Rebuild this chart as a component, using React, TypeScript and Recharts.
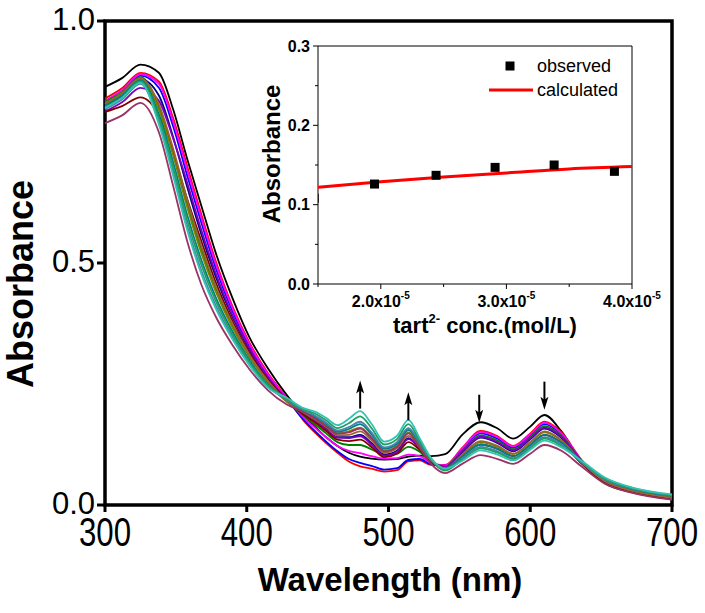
import { LineChart, Line, XAxis, YAxis, ReferenceArea, ReferenceDot, ComposedChart, Scatter } from 'recharts';

const FONT = '"Liberation Sans", Arial, sans-serif';

// wavelength grid (nm) of the titration spectra
const wavelengths = [300, 312, 325, 338, 348, 358, 368, 378, 390, 402, 415, 428, 440, 448, 456, 464, 472, 480, 488, 497, 506, 514, 522, 530, 540, 552, 565, 577, 588, 600, 610, 622, 636, 652, 672, 700];

// absorbance of each spectrum
const black = [0.864, 0.882, 0.910, 0.893, 0.818, 0.715, 0.618, 0.522, 0.427, 0.346, 0.282, 0.228, 0.185, 0.162, 0.140, 0.122, 0.108, 0.100, 0.096, 0.094, 0.095, 0.100, 0.102, 0.101, 0.105, 0.145, 0.171, 0.158, 0.137, 0.162, 0.186, 0.152, 0.090, 0.046, 0.026, 0.014];
const red = [0.840, 0.861, 0.893, 0.875, 0.800, 0.700, 0.600, 0.505, 0.410, 0.335, 0.272, 0.222, 0.175, 0.150, 0.128, 0.108, 0.090, 0.080, 0.075, 0.069, 0.072, 0.090, 0.092, 0.083, 0.083, 0.118, 0.153, 0.142, 0.122, 0.148, 0.172, 0.150, 0.094, 0.050, 0.027, 0.012];
const blue = [0.826, 0.850, 0.887, 0.862, 0.783, 0.681, 0.583, 0.491, 0.400, 0.328, 0.268, 0.220, 0.177, 0.153, 0.131, 0.111, 0.095, 0.087, 0.081, 0.073, 0.076, 0.093, 0.095, 0.084, 0.081, 0.115, 0.148, 0.137, 0.118, 0.144, 0.167, 0.146, 0.092, 0.050, 0.027, 0.013];
const magenta = [0.835, 0.857, 0.890, 0.870, 0.793, 0.692, 0.593, 0.499, 0.406, 0.332, 0.270, 0.221, 0.181, 0.160, 0.140, 0.122, 0.112, 0.107, 0.101, 0.096, 0.097, 0.104, 0.101, 0.087, 0.082, 0.117, 0.151, 0.140, 0.121, 0.146, 0.170, 0.148, 0.093, 0.050, 0.028, 0.013];
const green = [0.833, 0.853, 0.884, 0.823, 0.730, 0.623, 0.528, 0.448, 0.370, 0.308, 0.255, 0.215, 0.185, 0.167, 0.148, 0.130, 0.124, 0.124, 0.115, 0.104, 0.106, 0.120, 0.110, 0.088, 0.080, 0.112, 0.144, 0.133, 0.115, 0.140, 0.163, 0.143, 0.092, 0.051, 0.029, 0.014];
const navy = [0.823, 0.845, 0.880, 0.846, 0.761, 0.657, 0.559, 0.473, 0.388, 0.320, 0.262, 0.218, 0.189, 0.175, 0.158, 0.140, 0.140, 0.145, 0.128, 0.104, 0.112, 0.138, 0.118, 0.091, 0.078, 0.108, 0.139, 0.128, 0.111, 0.136, 0.158, 0.139, 0.090, 0.050, 0.028, 0.014];
const purple = [0.813, 0.832, 0.862, 0.835, 0.758, 0.666, 0.568, 0.480, 0.392, 0.323, 0.264, 0.219, 0.189, 0.173, 0.156, 0.139, 0.138, 0.142, 0.125, 0.102, 0.110, 0.136, 0.117, 0.091, 0.079, 0.110, 0.141, 0.130, 0.113, 0.138, 0.160, 0.141, 0.091, 0.050, 0.028, 0.014];
const wine = [0.812, 0.824, 0.842, 0.805, 0.730, 0.632, 0.545, 0.461, 0.380, 0.314, 0.259, 0.217, 0.187, 0.171, 0.153, 0.135, 0.132, 0.135, 0.120, 0.099, 0.106, 0.130, 0.114, 0.090, 0.073, 0.100, 0.125, 0.116, 0.101, 0.124, 0.145, 0.129, 0.086, 0.048, 0.027, 0.013];
const olive = [0.828, 0.849, 0.880, 0.817, 0.723, 0.615, 0.520, 0.442, 0.366, 0.305, 0.253, 0.214, 0.193, 0.180, 0.164, 0.148, 0.152, 0.160, 0.140, 0.112, 0.122, 0.150, 0.124, 0.093, 0.075, 0.103, 0.130, 0.120, 0.105, 0.129, 0.150, 0.133, 0.089, 0.051, 0.030, 0.016];
const brown = [0.830, 0.851, 0.882, 0.828, 0.737, 0.630, 0.535, 0.453, 0.374, 0.310, 0.256, 0.216, 0.191, 0.177, 0.161, 0.144, 0.145, 0.152, 0.134, 0.108, 0.117, 0.143, 0.121, 0.092, 0.076, 0.104, 0.132, 0.122, 0.106, 0.130, 0.152, 0.134, 0.089, 0.050, 0.029, 0.015];
const teal = [0.825, 0.846, 0.878, 0.807, 0.709, 0.599, 0.506, 0.430, 0.358, 0.299, 0.249, 0.218, 0.194, 0.183, 0.168, 0.151, 0.157, 0.167, 0.146, 0.116, 0.126, 0.155, 0.127, 0.094, 0.076, 0.100, 0.125, 0.116, 0.101, 0.124, 0.145, 0.129, 0.090, 0.054, 0.033, 0.019];
const steel = [0.818, 0.838, 0.870, 0.791, 0.688, 0.576, 0.484, 0.413, 0.346, 0.291, 0.244, 0.218, 0.195, 0.185, 0.170, 0.154, 0.161, 0.172, 0.150, 0.119, 0.130, 0.159, 0.129, 0.094, 0.072, 0.096, 0.120, 0.111, 0.097, 0.120, 0.140, 0.125, 0.088, 0.054, 0.034, 0.020];
const maroon = [0.789, 0.805, 0.831, 0.770, 0.660, 0.545, 0.455, 0.390, 0.330, 0.280, 0.237, 0.208, 0.192, 0.179, 0.163, 0.147, 0.150, 0.158, 0.138, 0.111, 0.120, 0.148, 0.118, 0.085, 0.066, 0.085, 0.103, 0.095, 0.085, 0.106, 0.124, 0.112, 0.080, 0.045, 0.025, 0.011];
const greenTeal = [0.822, 0.842, 0.875, 0.799, 0.699, 0.588, 0.496, 0.422, 0.352, 0.295, 0.247, 0.220, 0.198, 0.189, 0.175, 0.159, 0.169, 0.183, 0.159, 0.125, 0.136, 0.167, 0.133, 0.096, 0.071, 0.094, 0.117, 0.108, 0.095, 0.117, 0.137, 0.122, 0.090, 0.056, 0.035, 0.021];
const turquoise = [0.820, 0.841, 0.872, 0.786, 0.681, 0.568, 0.477, 0.407, 0.342, 0.288, 0.242, 0.222, 0.200, 0.193, 0.180, 0.165, 0.178, 0.194, 0.168, 0.131, 0.143, 0.176, 0.138, 0.097, 0.075, 0.091, 0.113, 0.104, 0.092, 0.114, 0.133, 0.119, 0.092, 0.058, 0.036, 0.022];

const series = [
  { key: 'black', color: '#000000', values: black },
  { key: 'red', color: '#ff0000', values: red },
  { key: 'blue', color: '#0000ff', values: blue },
  { key: 'magenta', color: '#ff00ff', values: magenta },
  { key: 'green', color: '#008000', values: green },
  { key: 'navy', color: '#000080', values: navy },
  { key: 'purple', color: '#8000c0', values: purple },
  { key: 'wine', color: '#800000', values: wine },
  { key: 'olive', color: '#808000', values: olive },
  { key: 'brown', color: '#996633', values: brown },
  { key: 'teal', color: '#008080', values: teal },
  { key: 'steel', color: '#4682b4', values: steel },
  { key: 'maroon', color: '#993366', values: maroon },
  { key: 'greenTeal', color: '#20a060', values: greenTeal },
  { key: 'turquoise', color: '#35c3b3', values: turquoise },
];

const spectra = wavelengths.map((w, i) => {
  const row: Record<string, number> = { w };
  series.forEach(s => { row[s.key] = s.values[i]; });
  return row;
});

// arrows marking the direction of change (wavelength, absorbance at the tip)
const arrows = [
  { w: 480, tip: 0.257, dir: 'up' },
  { w: 514, tip: 0.233, dir: 'up' },
  { w: 564, tip: 0.170, dir: 'down' },
  { w: 610, tip: 0.197, dir: 'down' },
];

// inset: absorbance vs tartrate concentration
const concObserved = [1.47e-5, 1.95e-5, 2.44e-5, 2.91e-5, 3.38e-5, 3.86e-5];
const absObserved = [0.108, 0.126, 0.137, 0.147, 0.150, 0.142];
const concCalculated = [1.5e-5, 2.0e-5, 2.5e-5, 3.0e-5, 3.5e-5, 4.0e-5];
const absCalculated = [0.122, 0.129, 0.135, 0.140, 0.145, 0.148];

const observed = concObserved.map((x, i) => ({ x, y: absObserved[i] }));
const calculated = concCalculated.map((x, i) => ({ x, y: absCalculated[i] }));

const mainXTicks = [300, 400, 500, 600, 700];
const mainYTicks = [0, 0.5, 1.0];
const insetXTicks = [1.5e-5, 2.0e-5, 2.5e-5, 3.0e-5, 3.5e-5, 4.0e-5];
const insetYTicks = [0, 0.05, 0.1, 0.15, 0.2, 0.25, 0.3];

function MainXTick(props: any) {
  const { x, y, payload } = props;
  return (
    <g>
      <line x1={x} x2={x} y1={y} y2={y + 7} stroke="#000" strokeWidth={3} />
      <text transform={`translate(${x},${y + 41}) scale(0.78,1)`} textAnchor="middle" fontSize={40} fontFamily={FONT} fill="#000">
        {payload.value}
      </text>
    </g>
  );
}

function MainYTick(props: any) {
  const { x, y, payload } = props;
  return (
    <g>
      <line x1={x - 8} x2={x} y1={y} y2={y} stroke="#000" strokeWidth={3} />
      <text x={x - 10} y={y} dy="0.3em" textAnchor="end" fontSize={31} fontFamily={FONT} fill="#000">
        {Number(payload.value).toFixed(1)}
      </text>
    </g>
  );
}

function InsetXTick(props: any) {
  const { x, y, payload } = props;
  const v = payload.value * 1e5;
  const major = Math.abs(v - Math.round(v)) < 1e-6;
  return (
    <g>
      <line x1={x} x2={x} y1={y} y2={y + (major ? 5 : 3)} stroke="#000" strokeWidth={1} />
      {major && (
        <text x={x} y={y + 23} textAnchor="middle" fontSize={16} fontWeight="bold" fontFamily={FONT} fill="#000">
          {v.toFixed(1)}x10<tspan dy={-8} fontSize={10}>-5</tspan>
        </text>
      )}
    </g>
  );
}

function InsetYTick(props: any) {
  const { x, y, payload } = props;
  const v = payload.value * 10;
  const major = Math.abs(v - Math.round(v)) < 1e-6;
  return (
    <g>
      <line x1={x - (major ? 5 : 3)} x2={x} y1={y} y2={y} stroke="#000" strokeWidth={1} />
      {major && (
        <text x={x - 8} y={y} dy="0.36em" textAnchor="end" fontSize={16} fontWeight="bold" fontFamily={FONT} fill="#000">
          {Number(payload.value).toFixed(1)}
        </text>
      )}
    </g>
  );
}

function ArrowMark({ cx, cy, dir }: any) {
  const s = dir === 'up' ? 1 : -1;
  return (
    <g>
      <line x1={cx} x2={cx} y1={cy + s * 8} y2={cy + s * 28} stroke="#000" strokeWidth={2} />
      <path d={`M${cx},${cy} L${cx - 4},${cy + s * 13} L${cx},${cy + s * 10} L${cx + 4},${cy + s * 13} Z`} fill="#000" />
    </g>
  );
}

export default function App() {
  return (
    <div style={{ position: 'fixed', left: 0, top: 0, width: 705, height: 613, background: '#fff' }}>
      <LineChart width={705} height={613} data={spectra} margin={{ top: 21, right: 33, bottom: 0, left: 0 }}>
        <XAxis
          dataKey="w"
          type="number"
          domain={[300, 700]}
          ticks={mainXTicks}
          interval={0}
          height={108}
          axisLine={false}
          tickLine={false}
          tickSize={0}
          tickMargin={0}
          tick={<MainXTick />}
          label={{
            content: () => (
              <text x={390} y={591} textAnchor="middle" fontSize={33} fontWeight="bold" fontFamily={FONT} fill="#000">
                Wavelength (nm)
              </text>
            ),
          }}
        />
        <YAxis
          type="number"
          domain={[0, 1]}
          ticks={mainYTicks}
          interval={0}
          width={105}
          axisLine={false}
          tickLine={false}
          tickSize={0}
          tickMargin={0}
          tick={<MainYTick />}
          label={{
            content: () => (
              <text transform="translate(33,284) rotate(-90)" textAnchor="middle" fontSize={36} fontWeight="bold" fontFamily={FONT} fill="#000">
                Absorbance
              </text>
            ),
          }}
        />
        {series.map(s => (
          <Line
            key={s.key}
            type="monotone"
            dataKey={s.key}
            stroke={s.color}
            strokeWidth={1.8}
            dot={false}
            activeDot={false}
            isAnimationActive={false}
          />
        ))}
        <ReferenceArea x1={300} x2={700} y1={0} y2={1} fill="none" fillOpacity={0} stroke="#000" strokeWidth={3.5} />
        {arrows.map(a => (
          <ReferenceDot key={a.w} x={a.w} y={a.tip} r={1} shape={(p: any) => <ArrowMark cx={p.cx} cy={p.cy} dir={a.dir} />} />
        ))}
      </LineChart>

      <div style={{ position: 'absolute', left: 230, top: 30 }}>
        <ComposedChart width={470} height={320} margin={{ top: 16, right: 68, bottom: 0, left: 0 }}>
          <XAxis
            dataKey="x"
            type="number"
            domain={[1.5e-5, 4.0e-5]}
            allowDataOverflow
            ticks={insetXTicks}
            interval={0}
            height={66}
            axisLine={false}
            tickLine={false}
            tickSize={0}
            tickMargin={0}
            tick={<InsetXTick />}
            label={{
              content: () => (
                <text x={255} y={303} textAnchor="middle" fontSize={22} fontWeight="bold" fontFamily={FONT} fill="#000">
                  tart<tspan dy={-10} fontSize={13}>2-</tspan><tspan dy={10}> conc.(mol/L)</tspan>
                </text>
              ),
            }}
          />
          <YAxis
            type="number"
            domain={[0, 0.3]}
            ticks={insetYTicks}
            interval={0}
            width={88}
            axisLine={false}
            tickLine={false}
            tickSize={0}
            tickMargin={0}
            tick={<InsetYTick />}
            label={{
              content: () => (
                <text transform="translate(50,124) rotate(-90)" textAnchor="middle" fontSize={24} fontWeight="bold" fontFamily={FONT} fill="#000">
                  Absorbance
                </text>
              ),
            }}
          />
          <ReferenceArea x1={1.5e-5} x2={4.0e-5} y1={0} y2={0.3} fill="none" fillOpacity={0} stroke="#000" strokeWidth={1} />
          <Line data={calculated} dataKey="y" type="monotone" stroke="#ff0000" strokeWidth={3} dot={false} activeDot={false} isAnimationActive={false} />
          <Scatter
            data={observed}
            dataKey="y"
            fill="#000"
            isAnimationActive={false}
            shape={(p: any) => <rect x={p.cx - 4.5} y={p.cy - 4.5} width={9} height={9} fill="#000" />}
          />
        </ComposedChart>
      </div>

      <svg width={705} height={613} style={{ position: 'absolute', left: 0, top: 0, pointerEvents: 'none' }}>
        <rect x={505.5} y={61.5} width={9} height={9} fill="#000" />
        <text x={537} y={72} fontSize={18} fontFamily={FONT} fill="#000">observed</text>
        <line x1={489} x2={533} y1={90} y2={90} stroke="#ff0000" strokeWidth={3} />
        <text x={537} y={96} fontSize={18} fontFamily={FONT} fill="#000">calculated</text>
      </svg>
    </div>
  );
}
